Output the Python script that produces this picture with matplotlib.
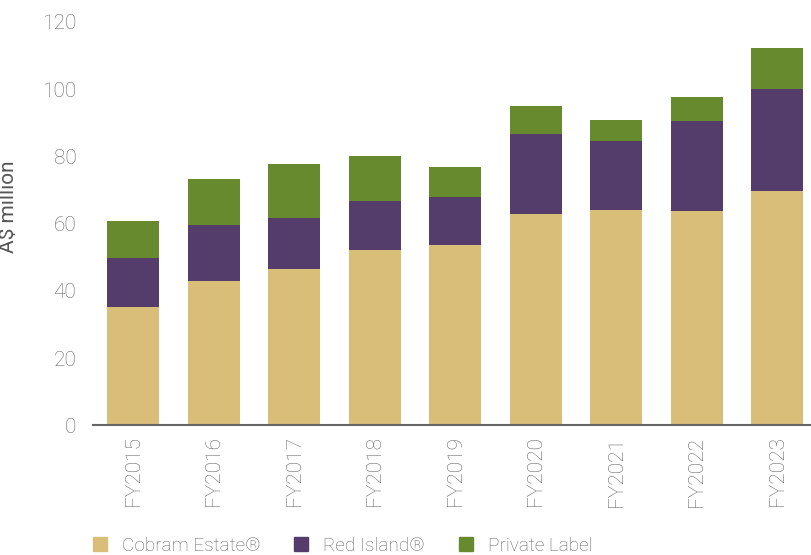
import numpy as np
import matplotlib.pyplot as plt
from matplotlib.patches import Patch

plt.rcParams['font.family'] = ['Roboto', 'DejaVu Sans']
plt.rcParams['font.weight'] = 'light'

years = ["FY2015", "FY2016", "FY2017", "FY2018", "FY2019",
         "FY2020", "FY2021", "FY2022", "FY2023"]
cobram = np.array([35.2, 42.9, 46.5, 52.2, 53.7, 62.9, 64.1, 63.8, 69.7])
red_island = np.array([14.6, 16.7, 15.1, 14.6, 14.3, 23.8, 20.5, 26.8, 30.4])
private_label = np.array([11.0, 13.7, 16.2, 13.4, 8.9, 8.3, 6.3, 7.1, 12.2])

c_cobram = "#D9BE7A"
c_red = "#553D6B"
c_private = "#688A2E"
grey = "#666666"

fig = plt.figure(figsize=(8.11, 5.55), dpi=100)
ax = fig.add_axes([0.1147, 0.2337, 0.8853, 0.7268])

x = np.arange(len(years))
w = 0.646
ax.bar(x, cobram, w, color=c_cobram)
ax.bar(x, red_island, w, bottom=cobram, color=c_red)
ax.bar(x, private_label, w, bottom=cobram + red_island, color=c_private)

ax.set_xlim(-0.5, 8.42)
ax.set_ylim(0, 120)
ax.set_yticks(np.arange(0, 121, 20))
ax.set_xticks(x)
ax.set_xticklabels(years, rotation=90)
ax.tick_params(axis="both", length=0, colors=grey, labelsize=15)
ax.tick_params(axis="x", pad=8)
ax.tick_params(axis="y", pad=12)

for s in ["top", "right", "left"]:
    ax.spines[s].set_visible(False)
ax.spines["bottom"].set_color(grey)
ax.spines["bottom"].set_linewidth(1.5)

ax.set_ylabel("A$ million", color="#555555", fontsize=15)
ax.yaxis.set_label_coords(-0.104, 0.541)

handles = [Patch(color=c_cobram), Patch(color=c_red), Patch(color=c_private)]
fig.legend(handles, ["Cobram Estate®", "Red Island®", "Private Label"],
           loc="lower left", bbox_to_anchor=(0.093, -0.03), ncol=3,
           frameon=False, fontsize=13.7, labelcolor=grey,
           handlelength=0.75, handleheight=0.75, handletextpad=0.8, columnspacing=1.75)

plt.savefig("out.png", dpi=100)
